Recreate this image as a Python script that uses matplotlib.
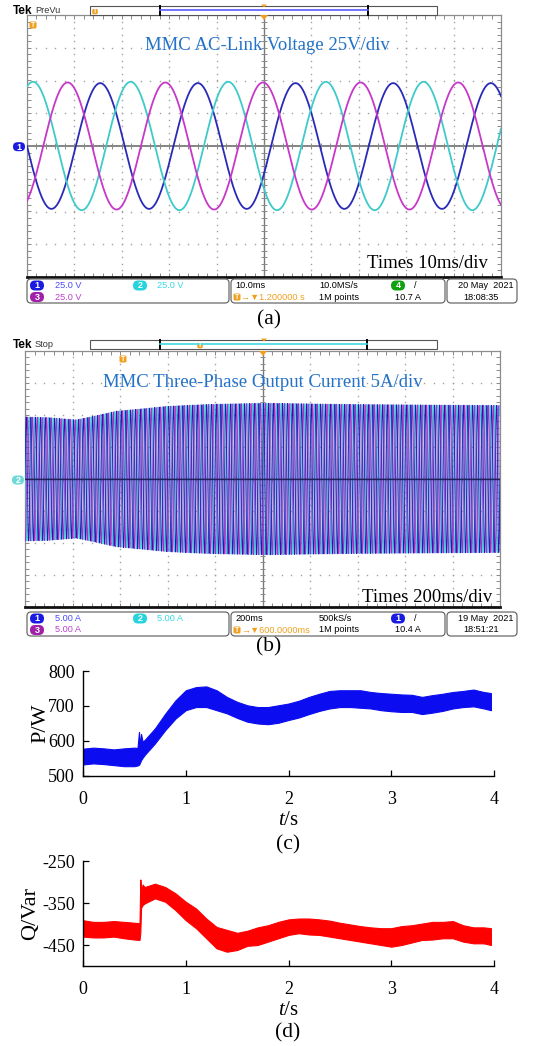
import numpy as np
import matplotlib
matplotlib.use("Agg")
import matplotlib.pyplot as plt
from matplotlib.patches import FancyBboxPatch, Rectangle, Polygon
from matplotlib.collections import LineCollection

W, H = 538, 1046

plt.rcParams["font.family"] = ["Liberation Serif", "DejaVu Serif"]
plt.rcParams["mathtext.fontset"] = "custom"
plt.rcParams["mathtext.rm"] = "Liberation Serif"
plt.rcParams["mathtext.it"] = "Liberation Serif:italic"
plt.rcParams["axes.unicode_minus"] = False

# (a) AC-link phase voltages, 25 V/div, 10 ms/div (blue, cyan, magenta)
volt_colors = ["#2a2ab8", "#3fcaca", "#c838c8"]
volt_amp = [48.0, 49.0, 48.5]        # V
volt_phase = [180.0, 68.0, 300.0]    # deg at left edge of screen
volt_period = 20.6                   # ms

# (b) three-phase output current, 5 A/div, 200 ms/div
cur_colors = ["#2fd0dc", "#b02cc4", "#1c1cb4"]
cur_phase = [120.0, 240.0, 0.0]
cur_freq = 50.0                      # Hz
cur_env_t = [0, 100, 216, 300, 384, 500, 594, 700, 806, 1016, 1200, 1400, 1600, 1800, 2000]  # ms
cur_env_amp = [9.7, 9.6, 9.25, 9.9, 10.6, 11.0, 11.35, 11.55, 11.7, 11.85, 11.75, 11.65, 11.6, 11.55, 11.5]  # A

# (c) active power band
p_t = [0, 0.1, 0.2, 0.3, 0.4, 0.5, 0.53, 0.545, 0.555, 0.565, 0.58, 0.6,
       0.7, 0.8, 0.9, 1.0, 1.1, 1.2, 1.3, 1.4, 1.5, 1.6, 1.7, 1.8, 1.9,
       2.0, 2.1, 2.2, 2.3, 2.4, 2.5, 2.6, 2.7, 2.8, 2.9, 3.0, 3.1, 3.2, 3.3,
       3.4, 3.5, 3.6, 3.7, 3.8, 3.9, 3.97]
p_high = [578, 581, 579, 576, 579, 581, 580, 626, 585, 620, 598, 603,
          636, 678, 716, 745, 754, 756, 745, 726, 712, 702, 697, 697, 702,
          707, 715, 726, 735, 743, 745, 745, 745, 740, 737, 735, 733, 732, 726,
          731, 735, 740, 743, 747, 740, 737]
p_low = [533, 536, 534, 531, 528, 528, 530, 532, 538, 545, 552, 560,
         593, 631, 664, 688, 697, 697, 688, 679, 666, 655, 650, 648, 652,
         660, 667, 677, 686, 693, 697, 697, 695, 693, 688, 685, 683, 683, 677,
         681, 686, 693, 697, 699, 693, 688]

# (d) reactive power band
q_t = [0, 0.1, 0.2, 0.3, 0.4, 0.5, 0.55, 0.558, 0.565, 0.58, 0.6,
       0.7, 0.8, 0.9, 1.0, 1.1, 1.2, 1.3, 1.4, 1.5, 1.6, 1.7, 1.8, 1.9,
       2.0, 2.1, 2.2, 2.3, 2.4, 2.5, 2.6, 2.7, 2.8, 2.9, 3.0, 3.1, 3.2, 3.3,
       3.4, 3.5, 3.6, 3.7, 3.8, 3.9, 3.97]
q_high = [-391, -395, -395, -393, -395, -397, -398, -294, -322, -306, -312,
          -304, -312, -327, -347, -363, -387, -407, -414, -421, -416, -408, -403, -395,
          -389, -387, -387, -389, -392, -397, -401, -405, -408, -410, -410, -405, -403, -399,
          -395, -395, -393, -403, -408, -408, -410]
q_low = [-430, -432, -432, -430, -434, -437, -438, -420, -362, -355, -351,
         -339, -347, -367, -391, -410, -434, -458, -466, -462, -452, -450, -442, -434,
         -426, -422, -425, -426, -430, -434, -438, -442, -446, -450, -454, -450, -444, -438,
         -437, -434, -434, -442, -446, -446, -450]

fig = plt.figure(figsize=(W / 100, H / 100), dpi=100)
fig.patch.set_facecolor("white")


def px_axes(x0, y0, x1, y1, **kw):
    return fig.add_axes([x0 / W, 1 - y1 / H, (x1 - x0) / W, (y1 - y0) / H], **kw)


def scope_axes(x0, y0, x1, y1):
    ax = px_axes(x0, y0, x1, y1)
    ax.set_xlim(0, 10)
    ax.set_ylim(-4, 4)
    ax.set_xticks([])
    ax.set_yticks([])
    for s in ax.spines.values():
        s.set_color("#8c8c8c")
        s.set_linewidth(0.9)
    ax.spines["bottom"].set_color("#111111")
    ax.spines["bottom"].set_linewidth(2.0)
    # dotted graticule
    xs, ys = [], []
    for gy in [-3, -2, -1, 1, 2, 3]:
        pts = np.arange(0, 10.01, 0.2)
        xs += list(pts)
        ys += [gy] * len(pts)
    for gx in [1, 2, 3, 4, 6, 7, 8, 9]:
        pts = np.arange(-4, 4.01, 0.2)
        xs += [gx] * len(pts)
        ys += list(pts)
    ax.plot(xs, ys, ls="none", marker="s", ms=1.0, mew=0, color="#a0a0a0", zorder=1)
    ax.axhline(0, color="#7a7a7a", lw=1.3, zorder=1)
    ax.axvline(5, color="#7a7a7a", lw=1.0, zorder=1)
    segs = []
    for v in np.arange(0, 10.01, 0.2):
        segs.append([(v, -0.09), (v, 0.09)])
        segs.append([(v, 4), (v, 3.88)])
        segs.append([(v, -4), (v, -3.88)])
    for v in np.arange(-4, 4.01, 0.2):
        segs.append([(4.94, v), (5.06, v)])
        segs.append([(0, v), (0.08, v)])
        segs.append([(10, v), (9.92, v)])
    ax.add_collection(LineCollection(segs, colors="#8a8a8a", linewidths=0.7, zorder=1))
    return ax


# ---------------- (a) voltages ----------------
axa = scope_axes(27, 15, 501, 277)
t_ms = np.linspace(0, 100, 5001)
for amp, ph, col in zip(volt_amp, volt_phase, volt_colors):
    v = amp * np.sin(2 * np.pi * t_ms / volt_period + np.deg2rad(ph))
    axa.plot(t_ms / 10, v / 25, color=col, lw=1.3, zorder=3)
axa.text(5.07, 3.06, "MMC AC-Link Voltage 25V/div", color="#2272c8", fontsize=13.5,
         ha="center", va="center", zorder=4)
axa.text(9.72, -3.6, "Times 10ms/div", color="black", fontsize=13.5,
         ha="right", va="center", zorder=4)

# ---------------- (b) currents ----------------
axb = scope_axes(25, 351, 500, 607)
t_b = np.linspace(0, 2000, 60001)
env = np.interp(t_b, cur_env_t, cur_env_amp)
for ph, col in zip(cur_phase, cur_colors):
    i = env * np.sin(2 * np.pi * cur_freq * t_b / 1000 + np.deg2rad(ph))
    axb.plot(t_b / 200, i / 5, color=col, lw=0.6, zorder=3)
axb.axhline(0, color="#20205a", lw=1.0, zorder=4)
axb.text(5.0, 3.0, "MMC Three-Phase Output Current 5A/div", color="#2272c8", fontsize=13.5,
         ha="center", va="center", zorder=5)
axb.text(9.83, -3.69, "Times 200ms/div", color="black", fontsize=13.5,
         ha="right", va="center", zorder=5)

# ---------------- overlay with scope frames ----------------
ov = fig.add_axes([0, 0, 1, 1], zorder=10)
ov.set_xlim(0, W)
ov.set_ylim(H, 0)
ov.axis("off")

SANS = ["Liberation Sans", "DejaVu Sans"]
ORANGE = "#f0a020"


def pill(cx, cy, label, color, w=14, h=10):
    ov.add_patch(FancyBboxPatch((cx - w / 2, cy - h / 2), w, h,
                                boxstyle=f"round,pad=0,rounding_size={h / 2}",
                                fc=color, ec="none"))
    ov.text(cx, cy + 0.3, label, color="white", fontsize=6.5, ha="center", va="center",
            family=SANS, fontweight="bold")


def tag(cx, cy, size=7):
    ov.add_patch(FancyBboxPatch((cx - size / 2, cy - size / 2), size, size,
                                boxstyle="round,pad=0,rounding_size=1.5", fc=ORANGE, ec="none"))
    ov.text(cx, cy + 0.3, "T", color="white", fontsize=5.0, ha="center", va="center",
            family=SANS, fontweight="bold")


def header(y, state, x_left, x_right, line_color, tmark_x):
    ov.text(13, y, "Tek", fontsize=8.5, fontweight="bold", family=SANS, va="center", ha="left")
    ov.text(35, y + 0.3, state, fontsize=6.6, family=SANS, va="center", ha="left", color="#333333")
    ov.add_patch(Rectangle((90, y - 5), 347, 9.5, fc="white", ec="#555555", lw=0.8))
    ov.plot([x_left, x_left], [y - 5, y + 4.5], color="black", lw=1.4)
    ov.plot([x_right, x_right], [y - 5, y + 4.5], color="black", lw=1.4)
    ov.plot([x_left, x_right], [y - 0.5, y - 0.5], color=line_color, lw=1.2)
    tag(tmark_x, y + 1, size=5.5)
    ov.add_patch(Polygon([[261, y - 6], [267, y - 6], [264, y - 3]], fc=ORANGE, ec="none"))


def info_bar(y0, scale, tb, rate, trig_ch, trig_col, delay, trig_level, date, clock):
    h = 24
    for x0, x1 in [(27, 229), (231, 445), (447, 517)]:
        ov.add_patch(FancyBboxPatch((x0, y0), x1 - x0, h, boxstyle="round,pad=0,rounding_size=4",
                                    fc="white", ec="#6a6a6a", lw=0.9))
    r1, r2 = y0 + 6.5, y0 + 18
    fs = 6.6
    pill(37, r1, "1", "#1a1ae0")
    ov.text(55, r1, scale, color="#4b4bff", fontsize=fs, family=SANS, va="center")
    pill(140, r1, "2", "#25d4dc")
    ov.text(157, r1, scale, color="#35d8e0", fontsize=fs, family=SANS, va="center")
    pill(37, r2, "3", "#a020a8")
    ov.text(55, r2, scale, color="#c040d0", fontsize=fs, family=SANS, va="center")
    ov.text(235, r1, tb, fontsize=fs, family=SANS, va="center")
    ov.text(319, r1, rate, fontsize=fs, family=SANS, va="center")
    pill(398, r1, trig_ch, trig_col)
    ov.text(414, r1, "/", fontsize=fs, family=SANS, va="center")
    tag(237, r2, size=7)
    ov.text(241, r2, "→▼" + delay, color=ORANGE, fontsize=fs, family=SANS, va="center")
    ov.text(319, r2, "1M points", fontsize=fs, family=SANS, va="center")
    ov.text(395, r2, trig_level, fontsize=fs, family=SANS, va="center")
    ov.text(514, r1, date, fontsize=fs, family=SANS, va="center", ha="right")
    ov.text(463, r2, clock, fontsize=fs, family=SANS, va="center")


# (a) frame
header(10.5, "PreVu", 160, 368, "#5a5aff", 95)
ov.add_patch(Polygon([[260, 15], [268, 15], [264, 20]], fc=ORANGE, ec="none"))
tag(33, 25)
pill(19, 146.7, "1", "#1a1ae0", w=12, h=9)
info_bar(279, "25.0 V", "10.0ms", "10.0MS/s", "4", "#10a010", "1.200000 s", "10.7 A",
         "20 May  2021", "18:08:35")
ov.text(269, 320, "(a)", fontsize=15.5, ha="center", va="center")

# (b) frame
header(344.5, "Stop", 160, 367, "#40d8e0", 200)
ov.add_patch(Polygon([[259, 351], [267, 351], [263, 356]], fc=ORANGE, ec="none"))
tag(123, 359)
pill(18, 480, "2", "#6fd8d8", w=12, h=9)
info_bar(612, "5.00 A", "200ms", "500kS/s", "1", "#1a1ae0", "600.0000ms", "10.4 A",
         "19 May  2021", "18:51:21")
ov.text(269, 647, "(b)", fontsize=15.5, ha="center", va="center")


# ---------------- (c), (d) power plots ----------------
def power_axes(y0, y1):
    ax = px_axes(83, y0, 494, y1)
    ax.spines["top"].set_visible(False)
    ax.spines["right"].set_visible(False)
    for s in ("left", "bottom"):
        ax.spines[s].set_linewidth(1.0)
    ax.tick_params(direction="in", length=4, width=0.9, labelsize=13)
    ax.tick_params(axis="x", pad=11)
    ax.tick_params(axis="y", pad=6)
    ax.set_xlim(0, 4)
    ax.set_xticks([0, 1, 2, 3, 4])
    ax.set_xlabel("$t$/s", fontsize=15)
    ax.xaxis.set_label_coords(0.5, -0.33)
    return ax


axc = power_axes(671, 776)
axc.fill_between(p_t, p_low, p_high, color="#0c0cf0", lw=0.8, edgecolor="#0c0cf0")
axc.set_ylim(500, 800)
axc.set_yticks([500, 600, 700, 800])
axc.set_ylabel("P/W", fontsize=16)
axc.yaxis.set_label_coords(-0.08, 0.5)
ov.text(288, 845, "(c)", fontsize=15.5, ha="center", va="center")

axd = power_axes(861, 966)
axd.fill_between(q_t, q_low, q_high, color="#ff0000", lw=0.8, edgecolor="#ff0000")
axd.set_ylim(-500, -250)
axd.set_yticks([-250, -350, -450])
axd.set_ylabel("Q/Var", fontsize=16)
axd.yaxis.set_label_coords(-0.105, 0.5)
ov.text(288, 1033, "(d)", fontsize=15.5, ha="center", va="center")

fig.savefig("out.png", dpi=100)
